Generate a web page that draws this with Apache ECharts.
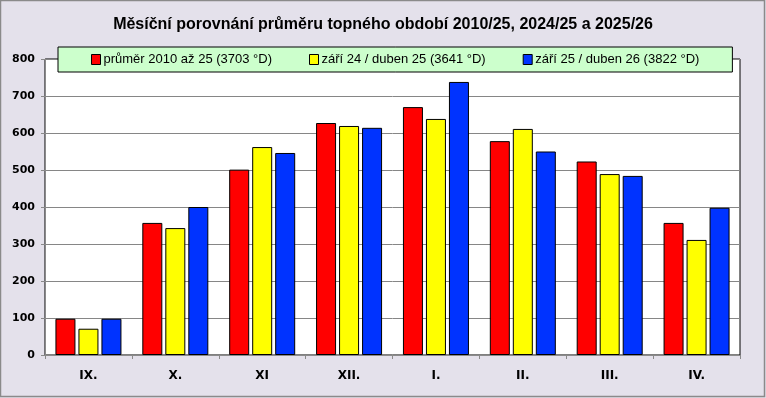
<!DOCTYPE html>
<html>
<head>
<meta charset="utf-8">
<script src="https://cdn.jsdelivr.net/npm/echarts@6/dist/echarts.min.js"></script>
<style>
  html, body { margin: 0; padding: 0; background: #e4e1eb; }
  #chart { width: 766px; height: 398px; }
</style>
</head>
<body>
<div id="chart"></div>
<script>
// měsíce topného období
const months = ['IX.', 'X.', 'XI', 'XII.', 'I.', 'II.', 'III.', 'IV.']
// denostupně po měsících
const avg2010 = [98, 357, 501, 627, 670, 578, 523, 357]
const season2425 = [71, 343, 562, 619, 638, 611, 489, 311]
const season2526 = [98, 400, 546, 614, 738, 550, 484, 398]
const seriesNames = [
  'průměr 2010 až 25 (3703 °D)',
  'září 24 / duben 25 (3641 °D)',
  'září 25 / duben 26 (3822 °D)'
]
const colors = ['#ff0000', '#ffff00', '#0033ff']
const yTicks = [0, 100, 200, 300, 400, 500, 600, 700, 800]

const chart = echarts.init(document.getElementById('chart'))

const mkBar = (name, data, color) => ({
  name,
  type: 'bar',
  data,
  barWidth: 20,
  barGap: '15%',
  itemStyle: { color, borderColor: '#000', borderWidth: 1 }
})

chart.setOption({
  animation: false,
  backgroundColor: '#e4e1eb',
  textStyle: { fontFamily: 'DejaVu Sans' },
  title: {
    text: 'Měsíční porovnání průměru topného období 2010/25, 2024/25 a 2025/26',
    left: 'center',
    top: 12,
    textStyle: {
      fontFamily: 'Liberation Sans',
      fontWeight: 'bold',
      fontSize: 16,
      color: '#000'
    }
  },
  legend: {
    left: 58,
    top: 47,
    itemWidth: 9,
    itemHeight: 10,
    itemGap: 37,
    padding: [6, 33, 6, 33],
    backgroundColor: '#ccffcc',
    borderColor: '#000',
    borderWidth: 1,
    textStyle: {
      fontFamily: 'Liberation Sans',
      fontSize: 13,
      color: '#000',
      padding: [0, 0, 0, -2]
    },
    itemStyle: { borderColor: '#000', borderWidth: 1 },
    data: seriesNames.map((n) => ({ name: n, icon: 'rect' }))
  },
  graphic: [{
    type: 'rect',
    shape: { x: 0.5, y: 0.5, width: 764, height: 396 },
    style: { fill: 'none', stroke: '#8a8a8a', lineWidth: 1.5 },
    silent: true
  }],
  grid: {
    left: 45,
    right: 26,
    top: 59,
    bottom: 43,
    show: true,
    backgroundColor: '#fff',
    borderColor: '#000',
    borderWidth: 1
  },
  xAxis: {
    type: 'category',
    data: months,
    axisLine: { lineStyle: { color: '#8a8a8a' } },
    axisTick: { show: true, length: 4, lineStyle: { color: '#8a8a8a' } },
    axisLabel: {
      color: '#000',
      fontWeight: 'bold',
      fontSize: 12,
      margin: 15
    }
  },
  yAxis: {
    type: 'value',
    min: yTicks[0],
    max: yTicks[yTicks.length - 1],
    interval: 100,
    axisLine: { show: true, lineStyle: { color: '#8a8a8a' } },
    axisTick: { show: true, length: 4, lineStyle: { color: '#8a8a8a' } },
    axisLabel: { color: '#000', fontWeight: 'bold', fontSize: 11, margin: 10 },
    splitLine: { lineStyle: { color: '#868686', width: 1 } }
  },
  series: [
    mkBar(seriesNames[0], avg2010, colors[0]),
    mkBar(seriesNames[1], season2425, colors[1]),
    mkBar(seriesNames[2], season2526, colors[2])
  ]
})
</script>
</body>
</html>
